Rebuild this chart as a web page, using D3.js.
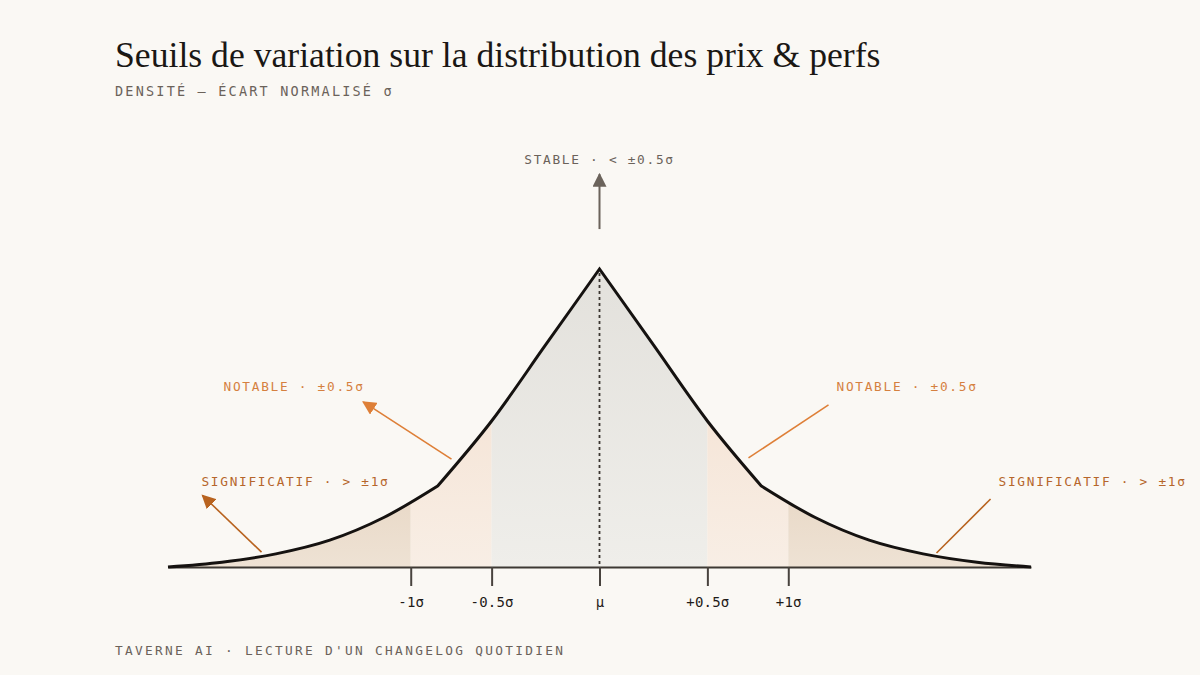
<!DOCTYPE html>
<html><head><meta charset="utf-8">
<script src="https://cdn.jsdelivr.net/npm/d3@7"></script>
<style>
html,body{margin:0;padding:0;background:#faf8f4;}
svg{display:block;}
</style></head>
<body>
<svg id="chart" width="1200" height="675"></svg>
<script>
// ---- data ----
const xDomain = [-4, 4];
const densityU = [-4, -3.5, -3, -2.5, -2, -1.5, -1, -0.5, 0, 0.5, 1, 1.5, 2, 2.5, 3, 3.5, 4];
const densityD = [0, 0.016, 0.044, 0.09, 0.166, 0.272, 0.49, 0.745, 1, 0.745, 0.49, 0.272, 0.166, 0.09, 0.044, 0.016, 0];
const bandEdges = [-4, -1.75, -1, 1, 1.75, 4];
const bandKinds = ["tail", "notable", "stable", "notable", "tail"];
const tickVals = [-1.75, -1, 0, 1, 1.75];
const tickLabels = ["-1σ", "-0.5σ", "μ", "+0.5σ", "+1σ"];
const annoTexts = ["STABLE · < ±0.5σ", "NOTABLE · ±0.5σ", "SIGNIFICATIF · > ±1σ", "NOTABLE · ±0.5σ", "SIGNIFICATIF · > ±1σ"];
const annoKinds = ["stable", "notable", "sig", "notable", "sig"];
// text anchor point (u, d) and leader line (u1,d1)->(u2,d2)
const annoTextU = [0, -3.485, -3.69, 2.197, 3.699];
const annoTextD = [1.352, 0.591, 0.272, 0.591, 0.272];
const annoAnchor = ["middle", "start", "start", "start", "start"];
const annoLine = [[0, 1.134, 0, 1.318], [-1.372, 0.362, -2.19, 0.554], [-3.133, 0.05, -3.68, 0.24], [1.381, 0.366, 2.123, 0.544], [3.124, 0.047, 3.625, 0.228]];
const annoArrow = [true, true, true, false, false];

const title = "Seuils de variation sur la distribution des prix & perfs";
const subtitle = "DENSITÉ — ÉCART NORMALISÉ σ";
const footer = "TAVERNE AI · LECTURE D'UN CHANGELOG QUOTIDIEN";

// ---- setup ----
const svg = d3.select("#chart");
svg.append("rect").attr("width", 1200).attr("height", 675).attr("fill", "#faf8f4");
const x = d3.scaleLinear().domain(xDomain).range([168, 1031]);
const y = d3.scaleLinear().domain([0, 1]).range([567, 269]);
const mono = "'DejaVu Sans Mono', 'Liberation Mono', monospace";

const colors = {
  stable: ["#e3e1dc", "#efeeea"],
  notable: ["#f3ddcb", "#f8eee5"],
  tail: ["#d9bc9f", "#eee2d4"]
};
const textColors = {stable: "#6b625a", notable: "#d5803f", sig: "#b6662b"};
const lineColors = {stable: "#6b635b", notable: "#de7f37", sig: "#b8631f"};

const defs = svg.append("defs");
Object.entries(colors).forEach(([k, c]) => {
  const g = defs.append("linearGradient").attr("id", "g-" + k)
    .attr("gradientUnits", "userSpaceOnUse").attr("x1", 0).attr("x2", 0)
    .attr("y1", y(1)).attr("y2", y(0));
  g.append("stop").attr("offset", 0).attr("stop-color", c[0]);
  g.append("stop").attr("offset", 1).attr("stop-color", c[1]);
});
Object.entries(lineColors).forEach(([k, c]) => {
  defs.append("marker").attr("id", "m-" + k)
    .attr("viewBox", "0 -5 10 10").attr("refX", 9).attr("refY", 0)
    .attr("markerUnits", "userSpaceOnUse").attr("markerWidth", 14).attr("markerHeight", 14)
    .attr("orient", "auto")
    .append("path").attr("d", "M0,-5L10,0L0,5Z").attr("fill", c);
});

// ---- curve path ----
const pts = densityU.map((u, i) => [u, densityD[i]]);
const iL = densityU.indexOf(-1.5), iC = densityU.indexOf(0), iR = densityU.indexOf(1.5);
const lineMono = d3.line().x(d => x(d[0])).y(d => y(d[1])).curve(d3.curveMonotoneX);
const segs = [[0, iL], [iL, iC], [iC, iR], [iR, pts.length - 1]];
const curveD = segs.map((s, i) => {
  const p = lineMono(pts.slice(s[0], s[1] + 1));
  return i === 0 ? p : p.replace(/^M/, "L");
}).join("");
const areaD = curveD + `L${x(xDomain[1])},${y(0)}L${x(xDomain[0])},${y(0)}Z`;

defs.append("clipPath").attr("id", "areaClip").append("path").attr("d", areaD);

const bands = bandKinds.map((k, i) => ({k, a: bandEdges[i], b: bandEdges[i + 1]}));
svg.append("g").attr("clip-path", "url(#areaClip)")
  .selectAll("rect").data(bands).join("rect")
  .attr("x", d => x(d.a)).attr("width", d => x(d.b) - x(d.a))
  .attr("y", y(1) - 5).attr("height", y(0) - y(1) + 5)
  .attr("fill", d => `url(#g-${d.k})`);

// center dotted line
svg.append("line").attr("x1", x(0)).attr("x2", x(0)).attr("y1", y(1) + 4).attr("y2", y(0))
  .attr("stroke", "#3b3631").attr("stroke-width", 1.8).attr("stroke-dasharray", "3,3");

// axis
const axis = d3.axisBottom(x).tickValues(tickVals).tickFormat((d, i) => tickLabels[i])
  .tickSize(19).tickSizeOuter(0).tickPadding(11);
const ag = svg.append("g").attr("transform", `translate(0,${y(0)})`).call(axis);
ag.select(".domain").attr("stroke", "#3d3833").attr("stroke-width", 2);
ag.selectAll(".tick line").attr("stroke", "#48433e").attr("stroke-width", 2);
ag.selectAll(".tick text").attr("fill", "#1f1b18").attr("font-family", mono)
  .attr("font-size", 14).attr("letter-spacing", 0.2);

// curve
svg.append("path").attr("d", curveD).attr("fill", "none").attr("stroke", "#151210")
  .attr("stroke-width", 3).attr("stroke-linejoin", "miter");

// annotations
annoTexts.forEach((t, i) => {
  const k = annoKinds[i];
  const L = annoLine[i];
  svg.append("line").attr("x1", x(L[0])).attr("y1", y(L[1])).attr("x2", x(L[2])).attr("y2", y(L[3]))
    .attr("stroke", lineColors[k]).attr("stroke-width", k === "stable" ? 2 : 1.6)
    .attr("marker-end", annoArrow[i] ? `url(#m-${k})` : null);
  svg.append("text").attr("x", x(annoTextU[i])).attr("y", y(annoTextD[i]))
    .attr("text-anchor", annoAnchor[i]).attr("fill", textColors[k])
    .attr("font-family", mono).attr("font-size", 12.8).attr("letter-spacing", 1.7)
    .text(t);
});

// titles
const tt = svg.append("text").attr("x", 115).attr("y", 67)
  .attr("font-family", "'Liberation Serif', 'DejaVu Serif', serif")
  .attr("font-size", 38).attr("fill", "#1a1714").text(title);
const w = tt.node().getComputedTextLength();
tt.attr("font-size", 38 * 766 / w);

svg.append("text").attr("x", 115).attr("y", 96).attr("font-family", mono)
  .attr("font-size", 13.5).attr("letter-spacing", 2.2).attr("fill", "#6b625a").text(subtitle);
svg.append("text").attr("x", 115).attr("y", 655).attr("font-family", mono)
  .attr("font-size", 12.8).attr("letter-spacing", 2.3).attr("fill", "#6b625a").text(footer);
</script>
</body></html>
